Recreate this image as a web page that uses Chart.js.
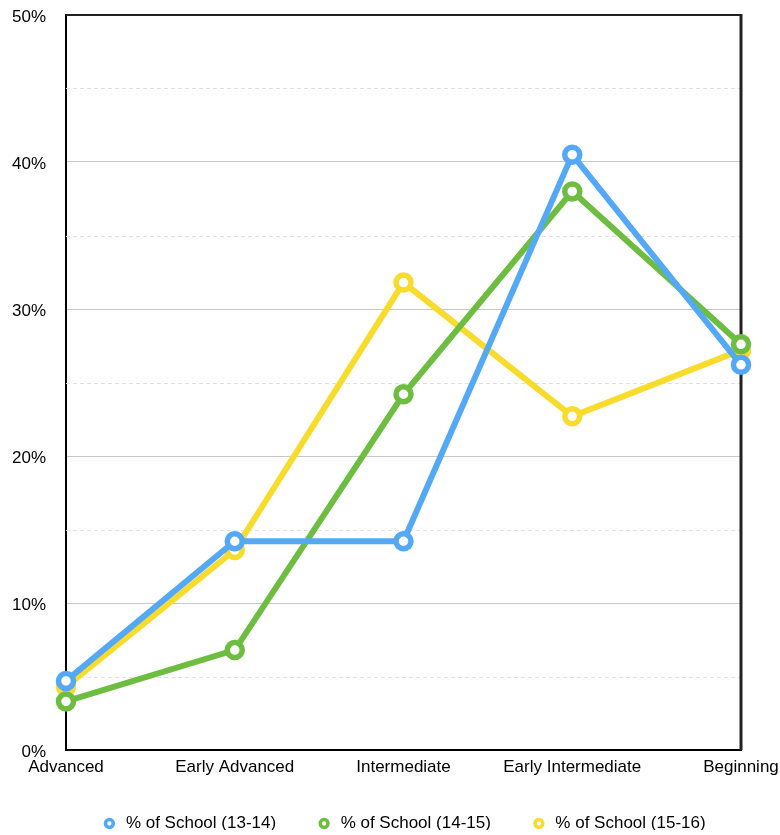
<!DOCTYPE html>
<html>
<head>
<meta charset="utf-8">
<script src="https://cdn.jsdelivr.net/npm/chart.js@4/dist/chart.umd.min.js"></script>
<style>
  html, body { margin: 0; padding: 0; background: #ffffff; }
  #wrap { width: 780px; height: 835px; }
</style>
</head>
<body>
<div id="wrap"><canvas id="chart" width="780" height="835"></canvas></div>
<script>
// Proficiency levels along the x axis
const levels = ['Advanced', 'Early Advanced', 'Intermediate', 'Early Intermediate', 'Beginning'];

// Share of students at each level, in percent
const school1314 = [4.7, 14.2, 14.2, 40.5, 26.2];
const school1415 = [3.3, 6.8, 24.2, 38.0, 27.6];
const school1516 = [4.3, 13.6, 31.8, 22.7, 27.2];

const seriesNames = ['% of School (13-14)', '% of School (14-15)', '% of School (15-16)'];
const seriesColors = ['#54a9f6', '#6dbd41', '#f9dc2b'];

// Frame on top/right plus dashed half-step gridlines
const framePlugin = {
  id: 'frame',
  afterLayout(chart) {
    // centre the legend row under the plot area and lift it slightly
    const L = chart.legend, a = chart.chartArea;
    const half = (L.right - L.left) / 2;
    const c = (a.left + a.right) / 2;
    L.left = c - half;
    L.right = c + half;
    L.top -= 5;
    L.bottom -= 5;
  },
  beforeDatasetsDraw(chart) {
    const { ctx, chartArea: a, scales: { y } } = chart;
    ctx.save();
    ctx.strokeStyle = '#e0e0e0';
    ctx.lineWidth = 1;
    ctx.setLineDash([4, 3]);
    for (let v = 5; v < 50; v += 10) {
      const py = Math.round(y.getPixelForValue(v)) + 0.5;
      ctx.beginPath();
      ctx.moveTo(a.left, py);
      ctx.lineTo(a.right, py);
      ctx.stroke();
    }
    ctx.setLineDash([]);
    ctx.strokeStyle = '#222222';
    ctx.lineWidth = 2;
    ctx.beginPath();
    ctx.moveTo(a.left, a.top);
    ctx.lineTo(a.right, a.top);
    ctx.stroke();
    ctx.lineWidth = 3;
    ctx.beginPath();
    ctx.moveTo(a.right, a.top - 1);
    ctx.lineTo(a.right, a.bottom);
    ctx.stroke();
    ctx.restore();
  }
};

const makeSet = (i, data) => ({
  label: seriesNames[i],
  data: data,
  borderColor: seriesColors[i],
  backgroundColor: '#ffffff',
  borderWidth: 6,
  pointRadius: 7.5,
  pointHoverRadius: 7.5,
  pointBorderWidth: 5.5,
  pointBackgroundColor: '#ffffff',
  pointBorderColor: seriesColors[i],
  tension: 0,
  clip: false
});

const font = { family: '"Liberation Sans", Arial, Helvetica, sans-serif', size: 17 };

new Chart(document.getElementById('chart'), {
  type: 'line',
  data: {
    labels: levels,
    datasets: [makeSet(0, school1314), makeSet(1, school1415), makeSet(2, school1516)]
  },
  plugins: [framePlugin],
  options: {
    responsive: false,
    animation: false,
    layout: { padding: { top: 15, left: 0, right: 0, bottom: 0 } },
    plugins: {
      tooltip: { enabled: false },
      legend: {
        position: 'bottom',
        maxHeight: 55,
        labels: {
          usePointStyle: true,
          pointStyle: 'circle',
          boxWidth: 16,
          boxHeight: 5.5,
          padding: 40,
          color: '#000000',
          font: font,
          generateLabels(chart) {
            const items = Chart.defaults.plugins.legend.labels.generateLabels(chart);
            items.forEach(it => { it.lineWidth = 3.5; it.fillStyle = '#ffffff'; });
            return items;
          }
        }
      }
    },
    scales: {
      x: {
        offset: false,
        grid: { display: false, drawTicks: false },
        border: { display: true, color: '#000000', width: 2 },
        ticks: { color: '#000000', font: font, padding: 7, maxRotation: 0, autoSkip: false },
        afterFit(scale) {
          scale.height = 30;
          scale.paddingLeft = 0;
          scale.paddingRight = 39;
        }
      },
      y: {
        min: 0,
        max: 50,
        grid: {
          drawTicks: false,
          color: ctx => (ctx.tick && ctx.tick.value % 10 === 0 ? '#c8c8c8' : 'rgba(0,0,0,0)'),
          lineWidth: 1
        },
        border: { display: true, color: '#000000', width: 2 },
        ticks: {
          stepSize: 5,
          color: '#000000',
          font: font,
          padding: 20,
          labelOffset: 2,
          callback: v => (v % 10 === 0 ? v + '%' : '')
        },
        afterFit(scale) {
          scale.width = 66;
          scale.paddingTop = 0;
          scale.paddingBottom = 0;
        }
      }
    }
  }
});
</script>
</body>
</html>
